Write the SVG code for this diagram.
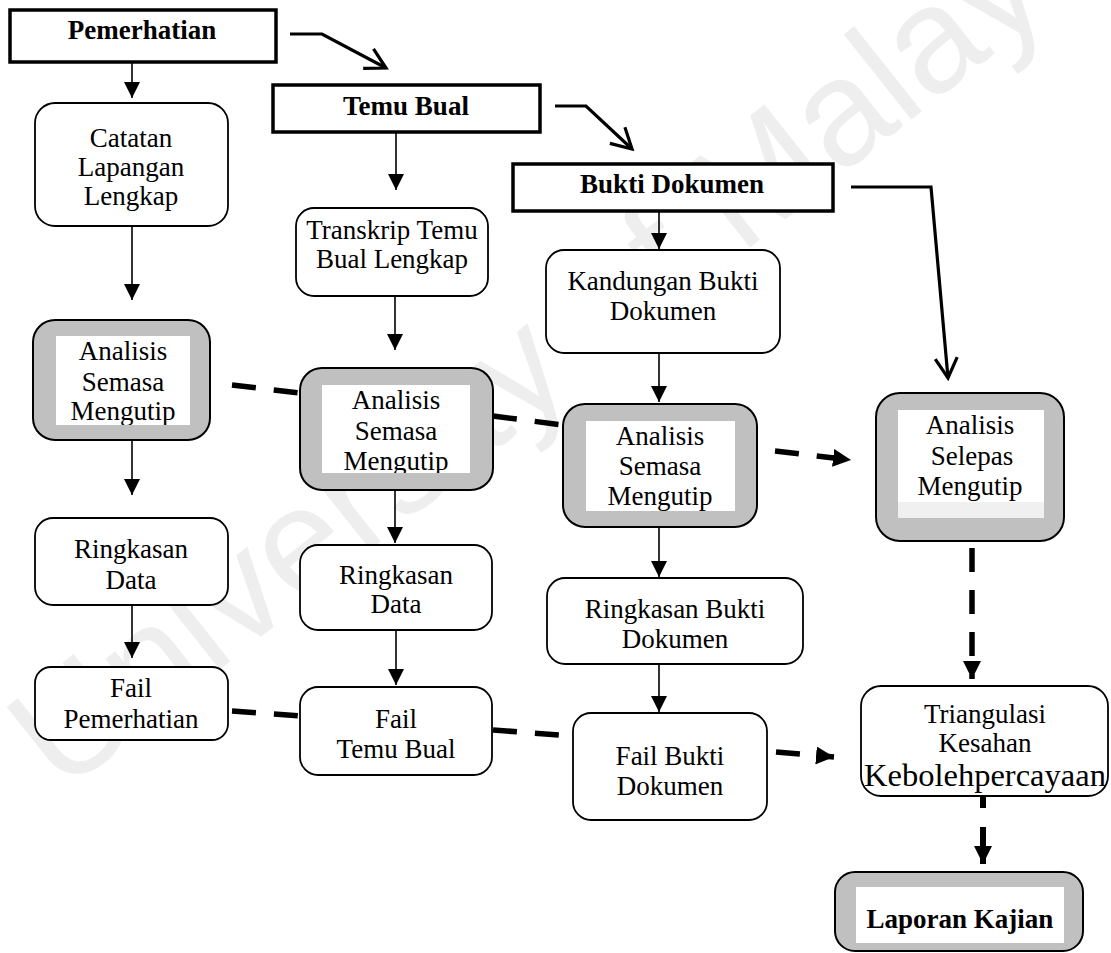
<svg xmlns="http://www.w3.org/2000/svg" width="1111" height="953" viewBox="0 0 1111 953">
  <defs>
    <style>
      text { font-family: "Liberation Serif", "Times New Roman", serif; font-size: 27px; text-anchor: middle; fill: #000; }
      .b { font-weight: bold; }
      .big { font-size: 32.5px; }
      .wm { font-family: "Liberation Sans", Arial, sans-serif; font-size: 150px; text-anchor: start; fill: #eeeeee; }
      .hdr { fill: #fff; stroke: #000; stroke-width: 3.5; }
      .box { fill: #fff; stroke: #000; stroke-width: 1.8; }
      .gbox { fill: #c0c0c0; stroke: #000; stroke-width: 2; }
      .inner { fill: #fff; }
      .solid { fill: none; stroke: #000; stroke-width: 1.6; marker-end: url(#head); }
      .bend { fill: none; stroke: #000; stroke-width: 3.2; stroke-linejoin: miter; marker-end: url(#open); }
      .dash { fill: none; stroke: #000; stroke-width: 5.5; stroke-dasharray: 24 18; }
    </style>
    <marker id="head" markerUnits="userSpaceOnUse" viewBox="0 0 16 16" markerWidth="16" markerHeight="16" refX="16" refY="8" orient="auto">
      <path d="M0,0 L16,8 L0,16 Z" fill="#000"/>
    </marker>
    <marker id="dhead" markerUnits="userSpaceOnUse" viewBox="0 0 18 18" markerWidth="18" markerHeight="18" refX="18" refY="9" orient="auto">
      <path d="M0,0 L18,9 L0,18 Z" fill="#000"/>
    </marker>
    <marker id="open" markerUnits="userSpaceOnUse" viewBox="-2 -2 26 28" markerWidth="26" markerHeight="28" refX="21" refY="12" orient="auto">
      <path d="M1,1 L21,12 L1,23" fill="none" stroke="#000" stroke-width="3.2"/>
    </marker>
    <clipPath id="c-a1"><rect x="56" y="336" width="134" height="89"/></clipPath>
    <clipPath id="c-a2"><rect x="322" y="385" width="148" height="88"/></clipPath>
    <clipPath id="c-a3"><rect x="586" y="421" width="149" height="90"/></clipPath>
    <clipPath id="c-s"><rect x="898" y="410" width="146" height="108"/></clipPath>
  </defs>

  <rect width="1111" height="953" fill="#fff"/>
  <text class="wm" transform="translate(62,795) rotate(-38.5)">University of Malaya</text>

  <!-- connectors -->
  <g id="connectors">
    <path class="bend" d="M290,34 L322,34 L386,68"/>
    <path class="bend" d="M555,106 L586,106 L632,149"/>
    <path class="bend" d="M851,187 L931,187 L948,378"/>

    <path class="solid" d="M132,62 L132,98"/>
    <path class="solid" d="M132,226 L132,300"/>
    <path class="solid" d="M132,440 L132,495"/>
    <path class="solid" d="M132,605 L132,658"/>
    <path class="solid" d="M396,132 L396,190"/>
    <path class="solid" d="M395,296 L395,350"/>
    <path class="solid" d="M395,490 L395,543"/>
    <path class="solid" d="M396,630 L396,685"/>
    <path class="solid" d="M659,211 L659,249"/>
    <path class="solid" d="M659,353 L659,402"/>
    <path class="solid" d="M659,527 L659,577"/>
    <path class="solid" d="M659,664 L659,712"/>

    <path class="dash" marker-end="url(#dhead)" d="M232,385 L300,393 M493,416 L563,425 M775,451 L851,460"/>
    <path class="dash" marker-end="url(#dhead)" d="M232,711 L300,716 M493,730 L573,736 M776,752 L834,757"/>
    <path class="dash" marker-end="url(#dhead)" d="M972,548 L972,679"/>
    <path class="dash" marker-end="url(#dhead)" style="stroke-width:6; stroke-dasharray:11 19 50" d="M983,797 L983,864"/>
  </g>

  <!-- header sources -->
  <g id="pemerhatian">
    <rect class="hdr" x="10" y="10" width="266" height="52"/>
    <text class="b" x="142" y="39">Pemerhatian</text>
  </g>
  <g id="temu-bual">
    <rect class="hdr" x="273" y="85" width="267" height="47"/>
    <text class="b" x="406" y="115">Temu Bual</text>
  </g>
  <g id="bukti-dokumen">
    <rect class="hdr" x="513" y="164" width="320" height="47"/>
    <text class="b" x="672" y="193">Bukti Dokumen</text>
  </g>

  <!-- column 1 -->
  <g id="catatan">
    <rect class="box" x="35" y="103" width="193" height="123" rx="20"/>
    <text x="131" y="147">Catatan</text>
    <text x="131" y="176">Lapangan</text>
    <text x="131" y="205">Lengkap</text>
  </g>
  <g id="analisis-1">
    <rect class="gbox" x="33" y="320" width="177" height="120" rx="22"/>
    <rect class="inner" x="56" y="336" width="134" height="89"/>
    <g clip-path="url(#c-a1)">
      <text x="123" y="360">Analisis</text>
      <text x="123" y="391">Semasa</text>
      <text x="123" y="420">Mengutip</text>
    </g>
  </g>
  <g id="ringkasan-1">
    <rect class="box" x="35" y="518" width="193" height="87" rx="18"/>
    <text x="131" y="558">Ringkasan</text>
    <text x="131" y="589">Data</text>
  </g>
  <g id="fail-pemerhatian">
    <rect class="box" x="35" y="667" width="193" height="73" rx="16"/>
    <text x="131" y="697">Fail</text>
    <text x="131" y="728">Pemerhatian</text>
  </g>

  <!-- column 2 -->
  <g id="transkrip">
    <rect class="box" x="296" y="208" width="192" height="88" rx="18"/>
    <text x="392" y="239">Transkrip Temu</text>
    <text x="392" y="268">Bual Lengkap</text>
  </g>
  <g id="analisis-2">
    <rect class="gbox" x="300" y="368" width="193" height="122" rx="22"/>
    <rect class="inner" x="322" y="385" width="148" height="88"/>
    <g clip-path="url(#c-a2)">
      <text x="396" y="409">Analisis</text>
      <text x="396" y="440">Semasa</text>
      <text x="396" y="470">Mengutip</text>
    </g>
  </g>
  <g id="ringkasan-2">
    <rect class="box" x="300" y="545" width="192" height="85" rx="18"/>
    <text x="396" y="584">Ringkasan</text>
    <text x="396" y="613">Data</text>
  </g>
  <g id="fail-temu-bual">
    <rect class="box" x="300" y="687" width="192" height="88" rx="18"/>
    <text x="396" y="728">Fail</text>
    <text x="396" y="758">Temu Bual</text>
  </g>

  <!-- column 3 -->
  <g id="kandungan">
    <rect class="box" x="546" y="250" width="234" height="103" rx="18"/>
    <text x="663" y="290">Kandungan Bukti</text>
    <text x="663" y="320">Dokumen</text>
  </g>
  <g id="analisis-3">
    <rect class="gbox" x="563" y="404" width="194" height="123" rx="22"/>
    <rect class="inner" x="586" y="421" width="149" height="90"/>
    <g clip-path="url(#c-a3)">
      <text x="660" y="445">Analisis</text>
      <text x="660" y="475">Semasa</text>
      <text x="660" y="505">Mengutip</text>
    </g>
  </g>
  <g id="ringkasan-bukti">
    <rect class="box" x="547" y="578" width="256" height="86" rx="18"/>
    <text x="675" y="618">Ringkasan Bukti</text>
    <text x="675" y="648">Dokumen</text>
  </g>
  <g id="fail-bukti">
    <rect class="box" x="573" y="713" width="194" height="107" rx="18"/>
    <text x="670" y="765">Fail Bukti</text>
    <text x="670" y="795">Dokumen</text>
  </g>

  <!-- column 4 -->
  <g id="analisis-selepas">
    <rect class="gbox" x="876" y="393" width="188" height="148" rx="24"/>
    <rect class="inner" x="898" y="410" width="146" height="108"/>
    <rect x="898" y="502" width="146" height="16" fill="#f0f0f0"/>
    <g clip-path="url(#c-s)">
      <text x="970" y="434">Analisis</text>
      <text x="972" y="465">Selepas</text>
      <text x="970" y="495">Mengutip</text>
    </g>
  </g>
  <g id="triangulasi">
    <rect class="box" x="861" y="686" width="247" height="110" rx="20"/>
    <text x="985" y="723">Triangulasi</text>
    <text x="985" y="752">Kesahan</text>
    <text class="big" x="985" y="786">Kebolehpercayaan</text>
  </g>
  <g id="laporan">
    <rect class="gbox" x="835" y="872" width="248" height="79" rx="20"/>
    <rect class="inner" x="856" y="887" width="208" height="56"/>
    <text class="b" x="960" y="928">Laporan Kajian</text>
  </g>
</svg>
